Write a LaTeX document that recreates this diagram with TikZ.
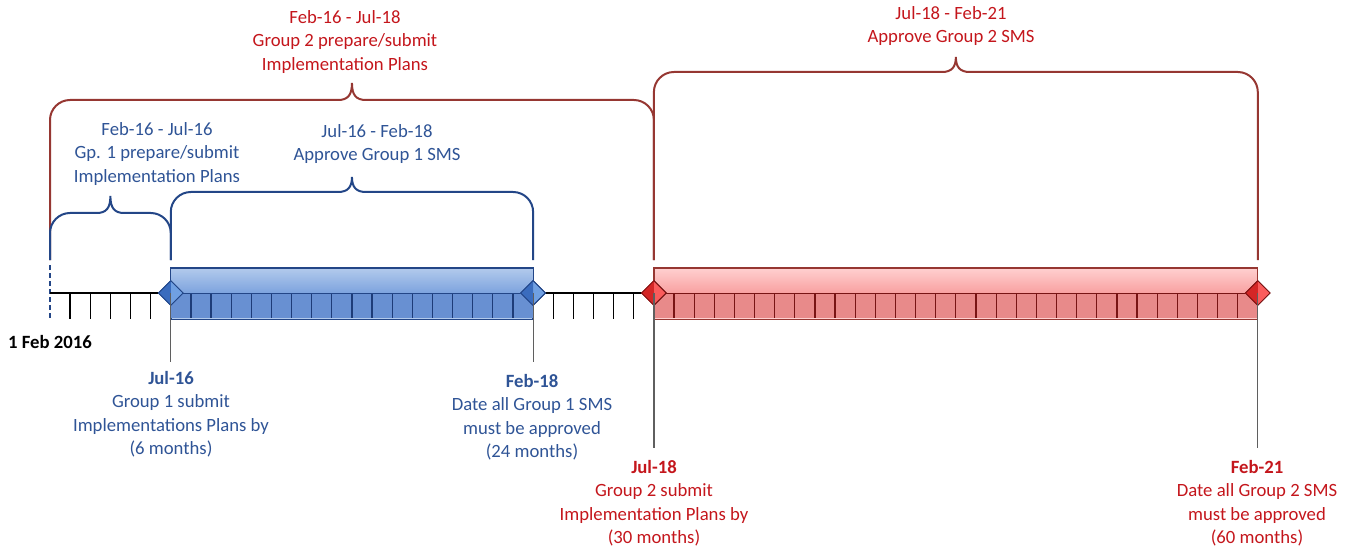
\documentclass[tikz,border=0pt]{standalone}
\usepackage{fontspec}
\setmainfont{Carlito}
\usetikzlibrary{shapes.geometric,calc}
\definecolor{redtxt}{RGB}{196,22,28}
\definecolor{bluetxt}{RGB}{47,84,150}
\definecolor{redbr}{RGB}{150,55,50}
\definecolor{bluebr}{RGB}{35,70,135}
\definecolor{blueA}{RGB}{178,202,236}
\definecolor{blueB}{RGB}{125,163,222}
\definecolor{blueC}{RGB}{104,144,210}
\definecolor{redA}{RGB}{255,208,208}
\definecolor{redB}{RGB}{248,160,160}
\definecolor{redC}{RGB}{232,138,138}
\definecolor{redtick}{RGB}{120,20,20}
\definecolor{bluetick}{RGB}{30,60,120}
\definecolor{dBlueL}{RGB}{58,108,190}
\definecolor{dBlueR}{RGB}{112,160,226}
\definecolor{dRedL}{RGB}{212,38,38}
\definecolor{dRedR}{RGB}{250,92,92}
\def\MW{20.13}
\newcommand\monx[1]{50+#1*\MW}
\newcommand\tlbrace[5]{%
\draw[#5, line width=2] (#1,260) -- (#1,#3+20) .. controls (#1,#3+9) and (#1+9,#3) .. (#1+20,#3)
 -- ({(#1+#2)/2-14},#3) .. controls ({(#1+#2)/2-4},#3) and ({(#1+#2)/2},#3-5) .. ({(#1+#2)/2},#3-#4)
 .. controls ({(#1+#2)/2},#3-5) and ({(#1+#2)/2+4},#3) .. ({(#1+#2)/2+14},#3)
 -- (#2-20,#3) .. controls (#2-9,#3) and (#2,#3+9) .. (#2,#3+20) -- (#2,260);}
\tikzset{
 lbl/.style={align=center, inner sep=0pt, font=\fontsize{18.7}{23.5}\selectfont, anchor=north},
 diam/.style={diamond, minimum width=25pt, minimum height=25pt, inner sep=0pt, line width=0.8pt},
 tick/.style={line width=1.4pt},
 drop/.style={draw={rgb,255:red,95;green,95;blue,95}, line width=1.2pt}
}
\begin{document}
\begin{tikzpicture}[x=1pt,y=-1pt]
\useasboundingbox (0,0) rectangle (1354,548);
% month coordinates
\coordinate (t0) at (\monx{0},293);
\coordinate (t6) at ({\monx{6}},293);
\coordinate (t24) at ({\monx{24}},293);
\coordinate (t30) at ({\monx{30}},293);
\coordinate (t60) at ({\monx{60}},293);
\coordinate (e6) at ({\monx{6}},362);
\coordinate (e24) at ({\monx{24}},362);
\coordinate (e30) at ({\monx{30}},448);
\coordinate (e60) at ({\monx{60}},448);
% braces
\tlbrace{50}{653.9}{100}{17}{redbr}
\tlbrace{653.9}{1257.8}{72}{15}{redbr}
\tlbrace{50}{170.78}{213}{17}{bluebr}
\tlbrace{170.78}{533.12}{192}{15}{bluebr}
% axis
\draw[bluebr, line width=1.4pt, dash pattern=on 5pt off 3pt] (50,265) -- (50,320);
\draw[line width=1.2pt] (t0) -- (t6) (t24) -- (t30);
\foreach \m in {1,...,5,25,26,27,28,29} \draw[tick] ({\monx{\m}},293) -- ({\monx{\m}},319);
% blue bar
\shade[top color=blueA, bottom color=blueB] ({\monx{6}},268) rectangle ({\monx{24}},293);
\fill[blueC] ({\monx{6}},293) rectangle ({\monx{24}},319);
\foreach \m in {7,...,23} \draw[bluetick, line width=1.2pt] ({\monx{\m}},293) -- ({\monx{\m}},319);
\draw[bluebr, line width=0.6pt] ({\monx{6}},293) -- ({\monx{24}},293);
\draw[bluebr, line width=1.2pt] ({\monx{6}},268) rectangle ({\monx{24}},319);
\draw[blueA, line width=1pt] ({\monx{6}+1},318) -- ({\monx{24}-1},318);
% red bar
\shade[top color=redA, bottom color=redB] ({\monx{30}},268) rectangle ({\monx{60}},293);
\fill[redC] ({\monx{30}},293) rectangle ({\monx{60}},319);
\foreach \m in {31,...,59} \draw[redtick, line width=1.2pt] ({\monx{\m}},293) -- ({\monx{\m}},319);
\draw[redtick, line width=0.6pt] ({\monx{30}},293) -- ({\monx{60}},293);
\draw[redbr, line width=1.2pt] ({\monx{30}},268) rectangle ({\monx{60}},319);
\draw[redA, line width=1pt] ({\monx{30}+1},318) -- ({\monx{60}-1},318);
% diamonds
\node[diam, fill=dBlueR, draw=bluebr] (d6) at (t6) {};
\fill[dBlueL] (d6.north) -- (d6.west) -- (d6.south) -- cycle;
\node[diam, draw=bluebr] at (t6) {};
\node[diam, fill=dBlueR, draw=bluebr] (d24) at (t24) {};
\fill[dBlueL] (d24.north) -- (d24.west) -- (d24.south) -- cycle;
\node[diam, draw=bluebr] at (t24) {};
\node[diam, fill=dRedR, draw=redtick] (d30) at (t30) {};
\fill[dRedL] (d30.north) -- (d30.west) -- (d30.south) -- cycle;
\node[diam, draw=redtick] at (t30) {};
\node[diam, fill=dRedR, draw=redtick] (d60) at (t60) {};
\fill[dRedL] (d60.north) -- (d60.west) -- (d60.south) -- cycle;
\node[diam, draw=redtick] at (t60) {};
% drop lines
\draw[drop] (d6.center) -- (e6);
\draw[drop] (d24.center) -- (e24);
\draw[drop] (d30.center) -- (e30);
\draw[drop] (d60.center) -- (e60);
% labels
\node[lbl, text=redtxt] (top2) at (345,10) {Feb-16 - Jul-18\\Group 2 prepare/submit\\Implementation Plans};
\node[lbl, text=redtxt] (top4) at (951,6) {Jul-18 - Feb-21\\Approve Group 2 SMS};
\node[lbl, text=bluetxt] (top1) at (157,122) {Feb-16 - Jul-16\\Gp. 1 prepare/submit\\Implementation Plans};
\node[lbl, text=bluetxt] (top3) at (377,124) {Jul-16 - Feb-18\\Approve Group 1 SMS};
\node[lbl, text=bluetxt] (b6) at (171,371) {\textbf{Jul-16}\\Group 1 submit\\Implementations Plans by\\(6 months)};
\node[lbl, text=bluetxt] (b24) at (532,374) {\textbf{Feb-18}\\Date all Group 1 SMS\\must be approved\\(24 months)};
\node[lbl, text=redtxt] (b30) at (654,460) {\textbf{Jul-18}\\Group 2 submit\\Implementation Plans by\\(30 months)};
\node[lbl, text=redtxt] (b60) at (1257,460) {\textbf{Feb-21}\\Date all Group 2 SMS\\must be approved\\(60 months)};
\node[inner sep=0pt, font=\fontsize{18.7}{23.5}\selectfont\bfseries] (start) at (50,342) {1 Feb 2016};
\end{tikzpicture}
\end{document}
